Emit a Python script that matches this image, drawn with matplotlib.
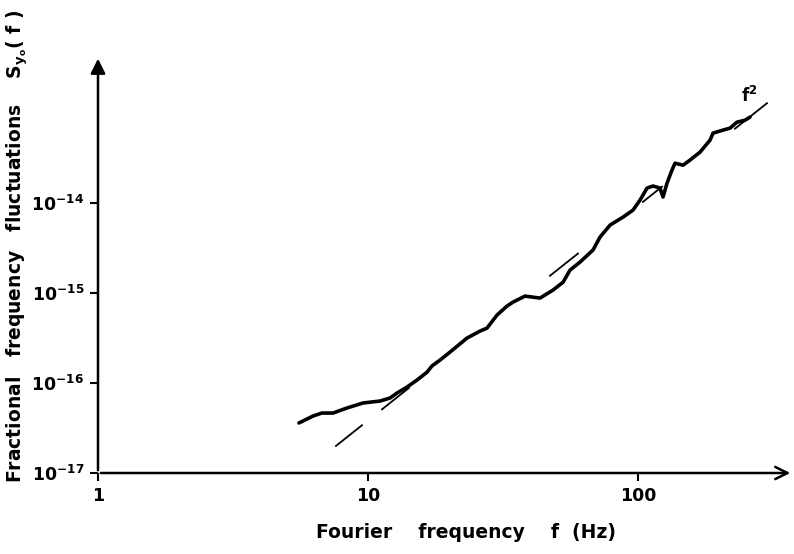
import numpy
import matplotlib
matplotlib.use('Agg')
import matplotlib.pyplot as plt

# spectrum (Hz, fractional frequency)
freq = [5.55, 6.26, 6.75, 7.42, 8.36, 9.58, 11.08, 12.06, 12.81, 13.95,
        15.19, 16.54, 17.26, 18.48, 20.13, 23.26, 25.99, 27.59, 30.05, 32.72,
        34.44, 38.15, 43.36, 48.44, 52.76, 55.99, 60.97, 68.13, 72.32, 78.77,
        88.01, 95.83, 101.7, 108.0, 113.6, 120.6, 123.8, 128.1, 133.6, 137.1,
        146.8, 155.8, 169.7, 184.8, 189.6, 206.4, 219.1, 232.6, 249.1, 259.9]
syo = [3.60e-17, 4.30e-17, 4.64e-17, 4.64e-17, 5.28e-17, 6.00e-17, 6.31e-17, 6.81e-17, 7.74e-17, 9.03e-17,
       1.08e-16, 1.32e-16, 1.55e-16, 1.80e-16, 2.21e-16, 3.16e-16, 3.78e-16, 4.08e-16, 5.70e-16, 7.17e-16,
       7.94e-16, 9.26e-16, 8.80e-16, 1.08e-15, 1.32e-15, 1.80e-15, 2.21e-15, 3.01e-15, 4.19e-15, 5.70e-15,
       6.99e-15, 8.36e-15, 1.08e-14, 1.47e-14, 1.55e-14, 1.47e-14, 1.17e-14, 1.67e-14, 2.33e-14, 2.78e-14,
       2.64e-14, 3.01e-14, 3.69e-14, 5.01e-14, 6.00e-14, 6.48e-14, 6.81e-14, 7.94e-14, 8.36e-14, 9.03e-14]

# hand drawn f^2 guide: end points and the pieces (in Hz) where its dashes show
ref_freq = [7.61, 300.4]
ref_syo = [2.0e-17, 1.29e-13]
ref_dashes = [(7.61, 9.50), (11.27, 14.2), (47.2, 59.9), (104.3, 122.7), (228.6, 300.4)]

xticks = [1, 10, 100]
xticklabels = ['1', '10', '100']
yticks = [1e-17, 1e-16, 1e-15, 1e-14]
yticklabels = [r'$\mathbf{10^{-17}}$', r'$\mathbf{10^{-16}}$', r'$\mathbf{10^{-15}}$', r'$\mathbf{10^{-14}}$']

plt.rcParams['font.family'] = ['DejaVu Sans']
plt.rcParams['font.weight'] = 'bold'

fig = plt.figure(figsize=(7.94, 5.54), dpi=100)
ax = fig.add_axes([98/794, 81/554, 695/794, 413/554])
ax.set_xscale('log')
ax.set_yscale('log')
ax.set_xlim(1, 375)
ax.set_ylim(1e-17, 3.9e-13)

# data curve
ax.plot(freq, syo, color='black', lw=2.6, solid_capstyle='round', solid_joinstyle='round')

# guide line, straight in log-log, drawn piece by piece
lf = numpy.log10(ref_freq)
ls = numpy.log10(ref_syo)
slope = (ls[1] - ls[0]) / (lf[1] - lf[0])
for a, b in ref_dashes:
    seg_f = numpy.array([a, b])
    seg_s = 10 ** (ls[0] + slope * (numpy.log10(seg_f) - lf[0]))
    ax.plot(seg_f, seg_s, color='black', lw=1.3)
ax.text(240, 1.55e-13, r'$\mathbf{f^{2}}$', fontsize=12, ha='left', va='center')

# axes drawn as arrows like the original
for s in ax.spines.values():
    s.set_visible(False)
ax.annotate('', xy=(1, 0), xytext=(0, 0), xycoords='axes fraction',
            arrowprops=dict(arrowstyle='->', lw=1.8, mutation_scale=22, color='black'),
            annotation_clip=False)
ax.annotate('', xy=(0, 1.01), xytext=(0, 0), xycoords='axes fraction',
            arrowprops=dict(arrowstyle='-|>', lw=1.8, mutation_scale=22, color='black'),
            annotation_clip=False)

ax.set_xticks(xticks)
ax.set_xticklabels(xticklabels)
ax.set_yticks(yticks)
ax.set_yticklabels(yticklabels)
ax.minorticks_off()
ax.tick_params(direction='out', length=6, width=1.5, labelsize=12.5, pad=4)

fig.text(466/794, 1 - 532/554, 'Fourier    frequency    f  (Hz)', fontsize=13.5,
         ha='center', va='center')
fig.text(17/794, 1 - 246/554,
         r'Fractional   frequency   fluctuations    $\mathbf{S_{y_o}(\ f\ )}$',
         fontsize=13.5, rotation=90, ha='center', va='center')

plt.savefig('out.png', dpi=100)
